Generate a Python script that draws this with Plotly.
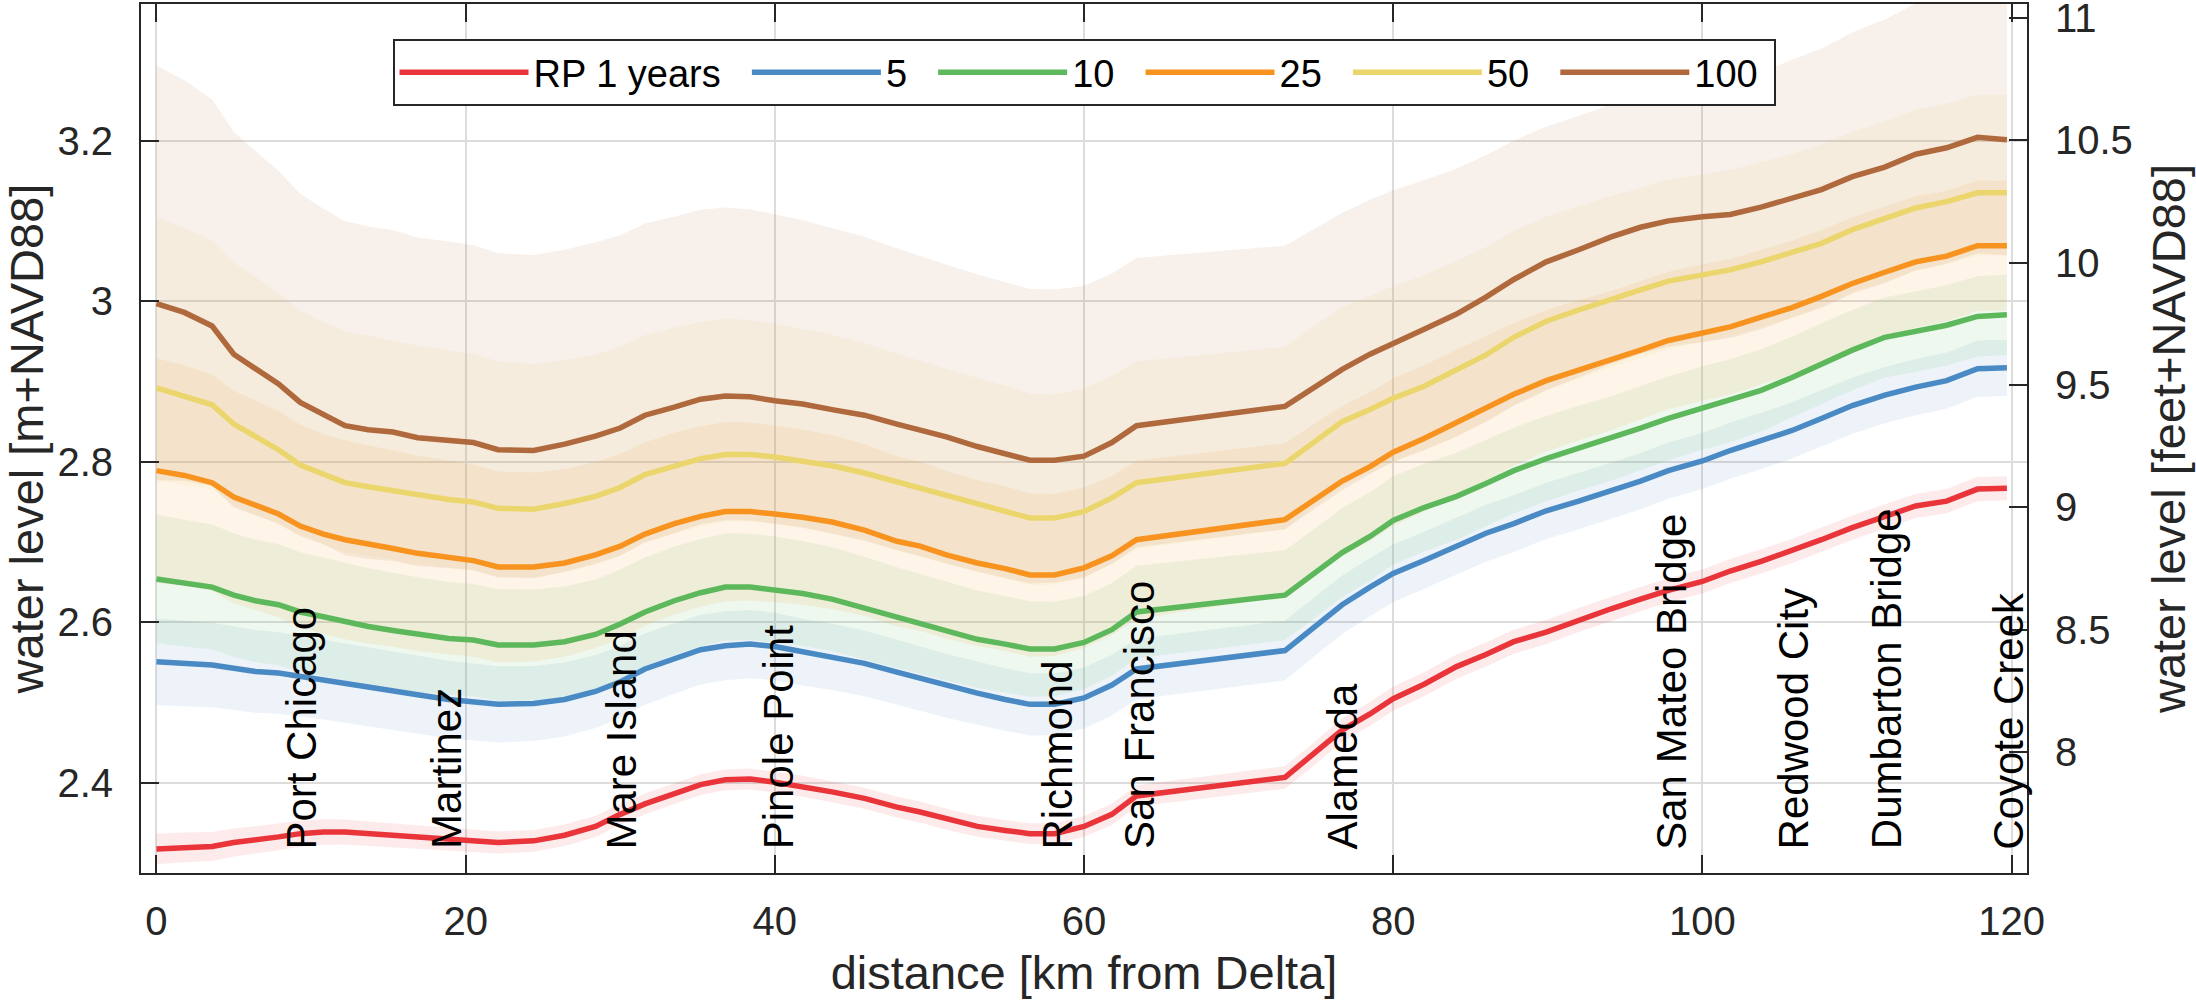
import numpy as np
import plotly.graph_objects as go

# ---------------- data ----------------
x_km = [0, 1.8, 3.6, 5.0, 6.4, 7.9, 9.3, 10.8, 12.2, 13.7, 15.3, 16.9, 18.9, 20.5, 22.1, 24.4,
        26.4, 28.4, 30.0, 31.6, 33.5, 35.2, 36.8, 38.4, 40.0, 41.8, 43.7, 45.8, 47.9, 49.4,
        51.1, 53.1, 54.9, 56.5, 58.1, 60.0, 61.8, 63.4, 73.0, 74.8, 76.7, 78.5, 80.0, 82.0,
        84.1, 86.0, 87.8, 89.9, 92.0, 94.1, 96.0, 97.8, 100.0, 101.8, 103.8, 105.8, 107.7,
        109.7, 111.8, 113.8, 115.8, 117.8, 119.7]

rp1 = [2.318, 2.320, 2.321, 2.326, 2.329, 2.333, 2.337, 2.339, 2.339, 2.337, 2.335, 2.333, 2.330,
       2.328, 2.326, 2.328, 2.335, 2.346, 2.361, 2.374, 2.387, 2.398, 2.404, 2.405, 2.401, 2.396,
       2.389, 2.381, 2.370, 2.364, 2.355, 2.346, 2.341, 2.337, 2.337, 2.346, 2.361, 2.384, 2.407,
       2.435, 2.466, 2.486, 2.505, 2.523, 2.545, 2.560, 2.576, 2.588, 2.603, 2.617, 2.629, 2.640,
       2.651, 2.664, 2.676, 2.689, 2.703, 2.718, 2.732, 2.745, 2.751, 2.766, 2.767]
rp5 = [2.551, 2.549, 2.547, 2.543, 2.539, 2.537, 2.533, 2.529, 2.525, 2.520, 2.515, 2.510, 2.504,
       2.501, 2.498, 2.499, 2.504, 2.514, 2.526, 2.542, 2.555, 2.566, 2.571, 2.573, 2.570, 2.563,
       2.557, 2.549, 2.538, 2.530, 2.521, 2.512, 2.504, 2.498, 2.498, 2.506, 2.522, 2.542, 2.565,
       2.593, 2.622, 2.644, 2.661, 2.677, 2.695, 2.711, 2.723, 2.739, 2.751, 2.764, 2.776, 2.789,
       2.801, 2.814, 2.826, 2.839, 2.854, 2.870, 2.883, 2.893, 2.901, 2.916, 2.917]
rp10 = [2.654, 2.649, 2.644, 2.634, 2.627, 2.622, 2.613, 2.607, 2.601, 2.595, 2.590, 2.585, 2.580,
        2.578, 2.572, 2.572, 2.576, 2.585, 2.598, 2.613, 2.627, 2.637, 2.644, 2.644, 2.641, 2.636,
        2.629, 2.618, 2.606, 2.598, 2.589, 2.579, 2.573, 2.567, 2.567, 2.575, 2.591, 2.613, 2.634,
        2.659, 2.687, 2.707, 2.727, 2.743, 2.757, 2.773, 2.789, 2.804, 2.817, 2.829, 2.842, 2.854,
        2.867, 2.876, 2.889, 2.905, 2.922, 2.939, 2.955, 2.962, 2.970, 2.981, 2.983]
rp25 = [2.789, 2.783, 2.774, 2.756, 2.746, 2.735, 2.720, 2.710, 2.703, 2.697, 2.692, 2.686, 2.681,
        2.677, 2.669, 2.669, 2.674, 2.684, 2.695, 2.710, 2.723, 2.732, 2.738, 2.738, 2.735, 2.731,
        2.725, 2.715, 2.701, 2.695, 2.684, 2.674, 2.667, 2.659, 2.659, 2.668, 2.683, 2.703, 2.728,
        2.752, 2.776, 2.794, 2.812, 2.829, 2.849, 2.867, 2.884, 2.901, 2.914, 2.926, 2.939, 2.951,
        2.961, 2.968, 2.980, 2.992, 3.006, 3.022, 3.036, 3.049, 3.056, 3.069, 3.069]
rp50 = [2.892, 2.881, 2.871, 2.847, 2.832, 2.815, 2.796, 2.784, 2.774, 2.769, 2.764, 2.758, 2.753,
        2.750, 2.742, 2.741, 2.748, 2.757, 2.768, 2.784, 2.795, 2.804, 2.809, 2.809, 2.806, 2.801,
        2.795, 2.786, 2.775, 2.768, 2.758, 2.748, 2.739, 2.730, 2.730, 2.738, 2.755, 2.774, 2.798,
        2.824, 2.850, 2.865, 2.879, 2.894, 2.914, 2.933, 2.955, 2.975, 2.989, 3.003, 3.014, 3.025,
        3.033, 3.039, 3.049, 3.060, 3.072, 3.089, 3.102, 3.116, 3.124, 3.135, 3.135]
rp100 = [2.997, 2.986, 2.969, 2.934, 2.916, 2.897, 2.874, 2.859, 2.845, 2.840, 2.837, 2.830, 2.827,
         2.824, 2.815, 2.814, 2.822, 2.832, 2.842, 2.858, 2.868, 2.878, 2.882, 2.881, 2.876, 2.872,
         2.865, 2.858, 2.847, 2.840, 2.831, 2.819, 2.810, 2.802, 2.802, 2.807, 2.824, 2.845, 2.869,
         2.891, 2.915, 2.934, 2.948, 2.965, 2.984, 3.005, 3.027, 3.049, 3.064, 3.080, 3.092, 3.100,
         3.105, 3.108, 3.117, 3.129, 3.139, 3.155, 3.167, 3.183, 3.191, 3.204, 3.201]

# uncertainty band widths (m above / below each line) read at these distances
band_knots = [0, 10, 20, 30, 40, 50, 60, 73, 80, 90, 100, 110, 120]
hi1 = [0.019, 0.016, 0.014, 0.013, 0.013, 0.013, 0.013, 0.014, 0.015, 0.015, 0.015, 0.015, 0.015]
lo1 = hi1
hi5 = [0.054, 0.050, 0.048, 0.045, 0.042, 0.040, 0.038, 0.037, 0.036, 0.035, 0.035, 0.035, 0.035]
lo5 = hi5
hi10 = [0.080, 0.074, 0.070, 0.068, 0.066, 0.062, 0.058, 0.056, 0.055, 0.053, 0.052, 0.050, 0.050]
lo10 = hi10
hi25 = [0.140, 0.125, 0.120, 0.115, 0.110, 0.105, 0.100, 0.095, 0.092, 0.088, 0.085, 0.082, 0.081]
lo25 = hi25
hi50 = [0.213, 0.190, 0.185, 0.175, 0.166, 0.158, 0.153, 0.145, 0.140, 0.130, 0.125, 0.122, 0.122]
lo50 = [0.115, 0.087, 0.085, 0.085, 0.083, 0.086, 0.082, 0.082, 0.079, 0.086, 0.084, 0.078, 0.078]
hi100 = [0.296, 0.257, 0.246, 0.240, 0.232, 0.215, 0.212, 0.200, 0.190, 0.168, 0.160, 0.180, 0.200]
lo100 = [0.220, 0.162, 0.159, 0.159, 0.153, 0.158, 0.151, 0.153, 0.148, 0.160, 0.156, 0.145, 0.144]

series_names = ["RP 1 years", "5", "10", "25", "50", "100"]
series_vals = [rp1, rp5, rp10, rp25, rp50, rp100]
series_hi = [hi1, hi5, hi10, hi25, hi50, hi100]
series_lo = [lo1, lo5, lo10, lo25, lo50, lo100]
series_rgb = [(233, 52, 58), (74, 138, 196), (93, 184, 92), (247, 147, 30), (235, 214, 110), (176, 104, 61)]

loc_names = ["Port Chicago", "Martinez", "Mare Island", "Pinole Point", "Richmond", "San Francisco",
             "Alameda", "San Mateo Bridge", "Redwood City", "Dumbarton Bridge", "Coyote Creek"]
loc_km = [9.4, 18.8, 30.1, 40.2, 58.3, 63.6, 76.7, 98.0, 105.9, 111.9, 119.8]
label_y = 2.315

x_ticks = [0, 20, 40, 60, 80, 100, 120]
y_ticks = [2.4, 2.6, 2.8, 3.0, 3.2]
y2_ticks = [8, 8.5, 9, 9.5, 10, 10.5, 11]

M2FT = 3.28084
XR = [-1, 121]
YR = [2.288, 3.370]

FONT = "Liberation Sans, Arial, sans-serif"
DARK = "#262626"
NB = "\u00a0"

# ---------------- figure ----------------
fig = go.Figure()
xa = np.array(x_km, dtype=float)

for vals, hi, lo, rgb in zip(series_vals, series_hi, series_lo, series_rgb):
    v = np.array(vals)
    up = v + np.interp(xa, band_knots, hi)
    dn = v - np.interp(xa, band_knots, lo)
    fig.add_trace(go.Scatter(
        x=list(xa) + list(xa[::-1]), y=list(up) + list(dn[::-1]),
        mode="lines", fill="toself", line=dict(width=0),
        fillcolor="rgba(%d,%d,%d,0.1)" % rgb, hoverinfo="skip", showlegend=False))

for i, (name, vals, rgb) in enumerate(zip(series_names, series_vals, series_rgb)):
    pad = NB * (1 if i == len(series_names) - 1 else 2)
    fig.add_trace(go.Scatter(
        x=x_km, y=vals, mode="lines", name=name + pad,
        line=dict(color="rgb(%d,%d,%d)" % rgb, width=5.5)))

# invisible helper so the secondary (feet) axis is registered
fig.add_trace(go.Scatter(x=[None], y=[None], yaxis="y2", showlegend=False, hoverinfo="skip"))

for name, km in zip(loc_names, loc_km):
    fig.add_annotation(x=km, y=label_y, xref="x", yref="y", text=name, textangle=-90,
                       showarrow=False, xanchor="center", yanchor="bottom",
                       font=dict(family=FONT, size=42, color="black"))

axis_common = dict(ticks="inside", ticklen=18, tickwidth=2, tickcolor=DARK,
                   showline=True, linewidth=2, linecolor=DARK, zeroline=False,
                   ticklabeloverflow="allow",
                   tickfont=dict(family=FONT, size=40, color=DARK))

fig.update_layout(
    width=2196, height=1002,
    margin=dict(l=141, r=169, t=4, b=129, autoexpand=False),
    paper_bgcolor="white", plot_bgcolor="white",
    font=dict(family=FONT, color=DARK),
    xaxis=dict(range=XR, tickvals=x_ticks, mirror="ticks", showgrid=True,
               gridcolor="#dcdcdc", gridwidth=1.5, ticklabelstandoff=12,
               title=dict(text="distance [km from Delta]", standoff=14,
                          font=dict(family=FONT, size=47, color=DARK)),
               **axis_common),
    yaxis=dict(range=YR, tickvals=y_ticks, mirror=False, showgrid=True,
               gridcolor="#dcdcdc", gridwidth=1.5, ticklabelstandoff=18,
               title=dict(text="water level [m+NAVD88]", standoff=14,
                          font=dict(family=FONT, size=47, color=DARK)),
               **axis_common),
    yaxis2=dict(range=[YR[0] * M2FT, YR[1] * M2FT], tickvals=y2_ticks, overlaying="y",
                side="right", showgrid=False, ticklabelstandoff=18,
                title=dict(text="water level [feet+NAVD88]", standoff=20,
                           font=dict(family=FONT, size=47, color=DARK)),
                **axis_common),
    legend=dict(orientation="h", x=0.5, xanchor="center", y=0.9597, yanchor="top",
                bordercolor=DARK, borderwidth=2, bgcolor="white", itemwidth=129,
                font=dict(family=FONT, size=38, color="black")),
    showlegend=True,
)

fig.write_html("out.html", config={"displayModeBar": False},
               post_script="document.body.style.margin='0';")
